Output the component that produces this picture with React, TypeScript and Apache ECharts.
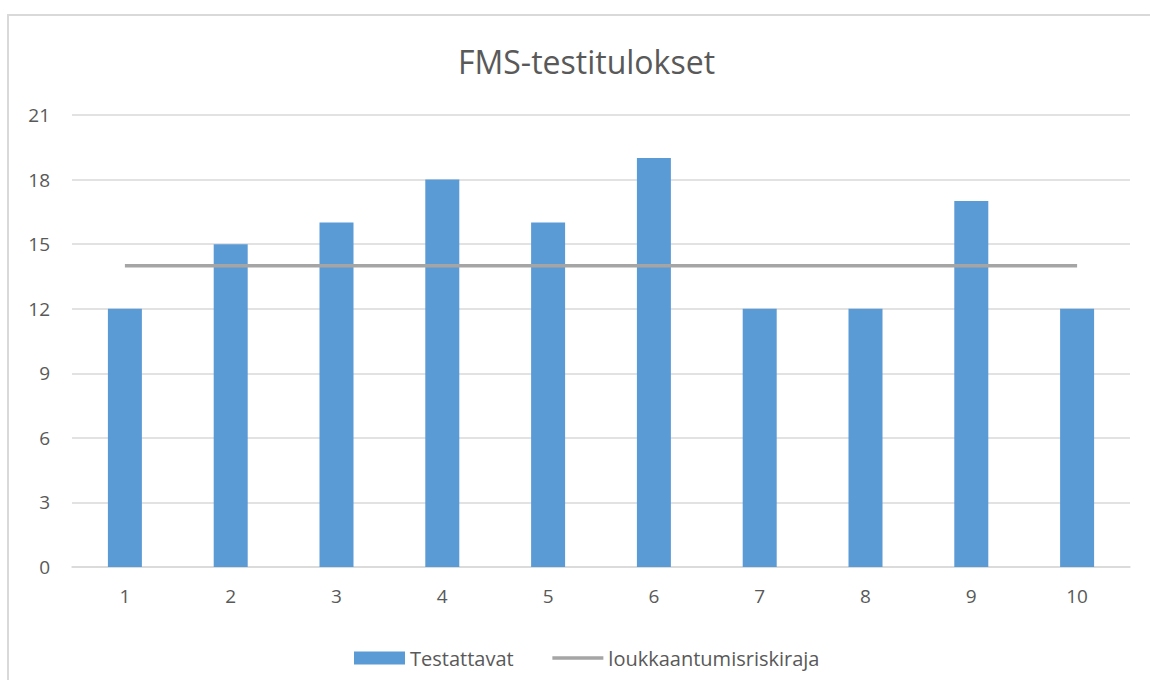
import React, { useEffect, useRef } from "react";
import * as echarts from "echarts";

const categories = ["1", "2", "3", "4", "5", "6", "7", "8", "9", "10"];
const testattavat = [12, 15, 16, 18, 16, 19, 12, 12, 17, 12];
const riskiraja = [14, 14, 14, 14, 14, 14, 14, 14, 14, 14];
const yTicks = { min: 0, max: 21, interval: 3 };

const FONT = "'Open Sans', Lato, sans-serif";
const TEXT = "#595959";

export default function App() {
  const ref = useRef<HTMLDivElement>(null);
  useEffect(() => {
    document.body.style.margin = "0";
    const chart = echarts.init(ref.current!, null, { renderer: "svg" });
    chart.setOption({
      animation: false,
      backgroundColor: "#ffffff",
      textStyle: { fontFamily: FONT },
      title: {
        text: "FMS-testitulokset",
        left: 453,
        top: 40,
        textStyle: { fontFamily: FONT, fontSize: 32, fontWeight: "normal", color: TEXT },
      },
      graphic: [
        {
          type: "rect",
          shape: { x: 8, y: 15, width: 1200, height: 720 },
          style: { fill: "none", stroke: "#d9d9d9", lineWidth: 2 },
          silent: true,
          z: -1,
        },
      ],
      legend: {
        left: 349,
        top: 643,
        itemWidth: 51,
        itemHeight: 13,
        itemGap: 37,
        itemTextGap: 4,
        textStyle: { fontFamily: FONT, fontSize: 20, color: TEXT },
        data: [
          { name: "Testattavat", icon: "rect" },
          {
            name: "loukkaantumisriskiraja",
            itemStyle: { color: "rgba(0,0,0,0)", opacity: 0, borderWidth: 0 },
            lineStyle: { color: "#a5a5a5", width: 3.5 },
          },
        ],
      },
      grid: { left: 72, right: 20, top: 115, bottom: 113 },
      xAxis: {
        type: "category",
        data: categories,
        axisLine: { lineStyle: { color: "#d9d9d9", width: 1.5 } },
        axisTick: { show: false },
        axisLabel: { color: TEXT, fontSize: 19, margin: 19, fontFamily: FONT },
      },
      yAxis: {
        type: "value",
        min: yTicks.min,
        max: yTicks.max,
        interval: yTicks.interval,
        axisLine: { show: false },
        axisTick: { show: false },
        axisLabel: { color: TEXT, fontSize: 19, margin: 22, fontFamily: FONT },
        splitLine: { lineStyle: { color: "#d9d9d9", width: 1.5 } },
      },
      series: [
        {
          name: "Testattavat",
          type: "bar",
          data: testattavat,
          barWidth: 34,
          itemStyle: { color: "#5b9bd5" },
        },
        {
          name: "loukkaantumisriskiraja",
          type: "line",
          data: riskiraja,
          symbol: "none",
          lineStyle: { color: "#a5a5a5", width: 3.5 },
          itemStyle: { color: "#a5a5a5" },
        },
      ],
    });
    return () => chart.dispose();
  }, []);
  return <div ref={ref} style={{ width: 1150, height: 680 }} />;
}
